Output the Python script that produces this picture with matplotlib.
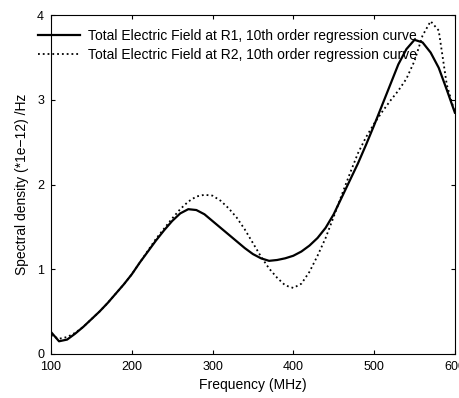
import matplotlib
matplotlib.use("Agg")
import matplotlib.pyplot as plt

freq = [100, 110, 120, 130, 140, 150, 160, 170, 180, 190, 200, 210, 220, 230, 240, 250,
        260, 270, 280, 290, 300, 310, 320, 330, 340, 350, 360, 370, 380, 390, 400, 410,
        420, 430, 440, 450, 460, 470, 480, 490, 500, 510, 520, 530, 540, 550, 560, 570,
        580, 590, 600]
r1 = [0.26, 0.15, 0.17, 0.24, 0.32, 0.41, 0.50, 0.60, 0.71, 0.82, 0.94, 1.08, 1.21, 1.34,
      1.46, 1.57, 1.66, 1.71, 1.70, 1.65, 1.57, 1.49, 1.41, 1.33, 1.25, 1.18, 1.13, 1.10,
      1.11, 1.13, 1.16, 1.21, 1.28, 1.37, 1.49, 1.65, 1.85, 2.05, 2.25, 2.47, 2.70, 2.94,
      3.18, 3.42, 3.60, 3.71, 3.68, 3.56, 3.38, 3.12, 2.85]
r2 = [0.22, 0.18, 0.20, 0.25, 0.32, 0.41, 0.50, 0.60, 0.71, 0.82, 0.94, 1.08, 1.22, 1.36,
      1.48, 1.60, 1.71, 1.80, 1.86, 1.88, 1.87, 1.81, 1.72, 1.61, 1.47, 1.31, 1.15, 1.01,
      0.90, 0.81, 0.78, 0.83, 0.97, 1.16, 1.37, 1.62, 1.88, 2.13, 2.37, 2.56, 2.72, 2.86,
      2.99, 3.11, 3.25, 3.46, 3.76, 3.93, 3.82, 3.18, 2.85]
labels = ["Total Electric Field at R1, 10th order regression curve",
          "Total Electric Field at R2, 10th order regression curve"]
xticks = [100, 200, 300, 400, 500, 600]
yticks = [0, 1, 2, 3, 4]

plt.rcParams['font.family'] = ['Liberation Sans', 'DejaVu Sans']
fig = plt.figure(figsize=(4.59, 3.98), dpi=100)
ax = fig.add_axes([0.111, 0.1106, 0.880, 0.851])
ax.plot(freq, r1, color='black', lw=1.6, ls='-', label=labels[0])
ax.plot(freq, r2, color='black', lw=1.3, ls=':', label=labels[1])
ax.set_xlim(100, 600)
ax.set_ylim(0, 4)
ax.set_xticks(xticks)
ax.set_yticks(yticks)
ax.tick_params(direction='in', top=True, right=True, labelsize=9, length=3, pad=5)
ax.set_xlabel("Frequency (MHz)", fontsize=10, labelpad=4)
ax.set_ylabel("Spectral density (*1e\u221212) /Hz", fontsize=10, labelpad=6)
ax.legend(loc='upper left', bbox_to_anchor=(-0.045, 0.975), frameon=False, fontsize=10,
          handlelength=3.0, handletextpad=0.6, labelspacing=0.35, borderaxespad=0)
fig.savefig("out.png", dpi=100)
